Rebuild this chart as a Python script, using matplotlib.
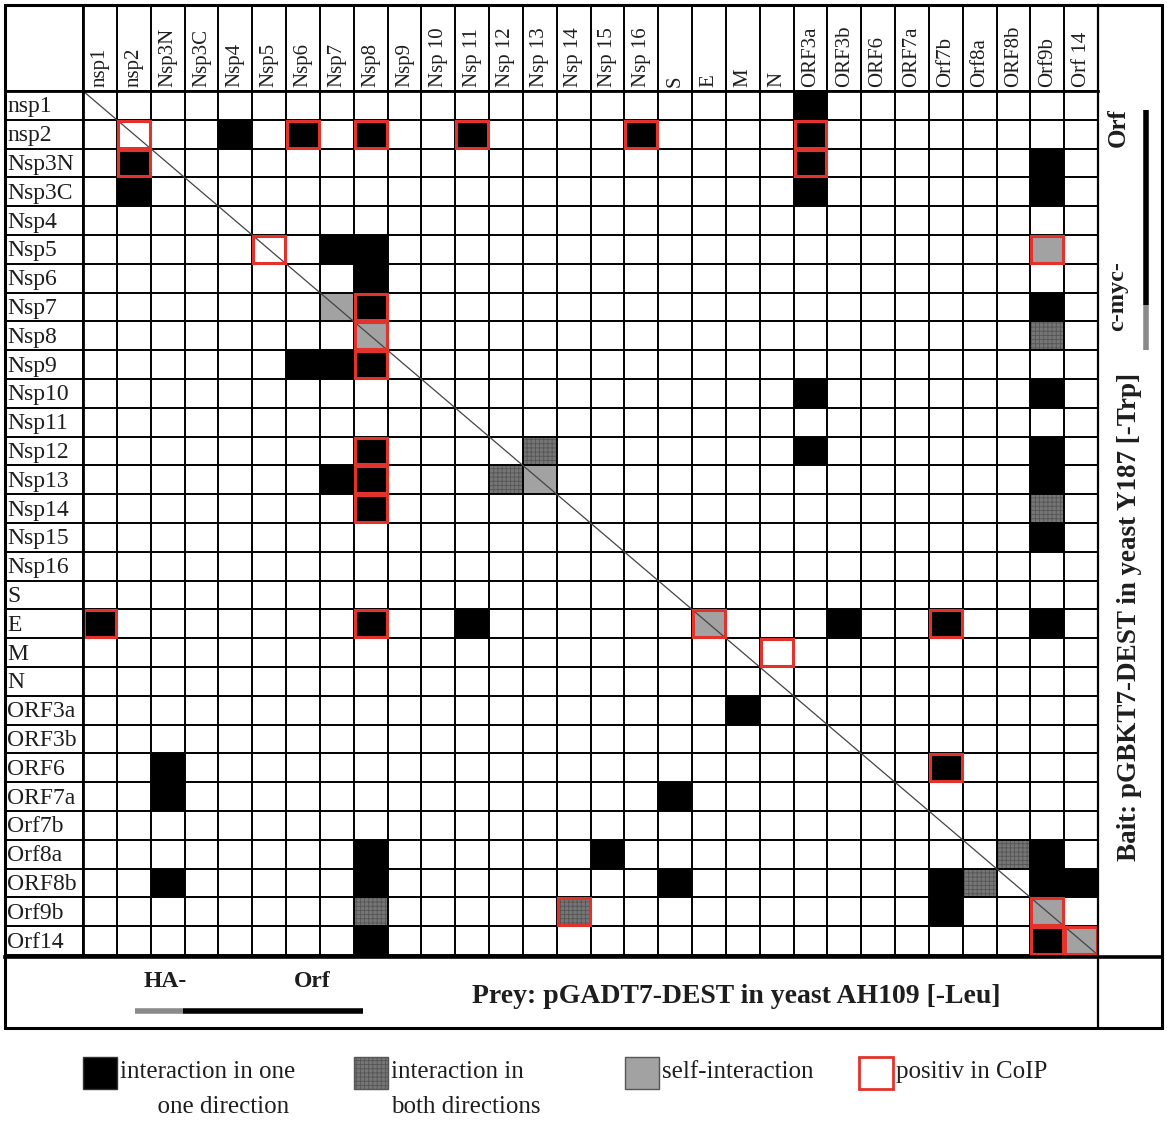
import matplotlib.pyplot as plt
from matplotlib.patches import Rectangle

# bait (rows) and prey (columns)
row_labels = ["nsp1", "nsp2", "Nsp3N", "Nsp3C", "Nsp4", "Nsp5", "Nsp6", "Nsp7", "Nsp8", "Nsp9",
              "Nsp10", "Nsp11", "Nsp12", "Nsp13", "Nsp14", "Nsp15", "Nsp16", "S", "E", "M", "N",
              "ORF3a", "ORF3b", "ORF6", "ORF7a", "Orf7b", "Orf8a", "ORF8b", "Orf9b", "Orf14"]
col_labels = ["nsp1", "nsp2", "Nsp3N", "Nsp3C", "Nsp4", "Nsp5", "Nsp6", "Nsp7", "Nsp8", "Nsp9",
              "Nsp 10", "Nsp 11", "Nsp 12", "Nsp 13", "Nsp 14", "Nsp 15", "Nsp 16", "S", "E", "M", "N",
              "ORF3a", "ORF3b", "ORF6", "ORF7a", "Orf7b", "Orf8a", "ORF8b", "Orf9b", "Orf 14"]

one_direction = [
    ("nsp1", "ORF3a"),
    ("nsp2", "Nsp4"), ("nsp2", "Nsp6"), ("nsp2", "Nsp8"), ("nsp2", "Nsp 11"), ("nsp2", "Nsp 16"), ("nsp2", "ORF3a"),
    ("Nsp3N", "nsp2"), ("Nsp3N", "ORF3a"), ("Nsp3N", "Orf9b"),
    ("Nsp3C", "nsp2"), ("Nsp3C", "ORF3a"), ("Nsp3C", "Orf9b"),
    ("Nsp5", "Nsp7"), ("Nsp5", "Nsp8"),
    ("Nsp6", "Nsp8"),
    ("Nsp7", "Nsp8"), ("Nsp7", "Orf9b"),
    ("Nsp9", "Nsp6"), ("Nsp9", "Nsp7"), ("Nsp9", "Nsp8"),
    ("Nsp10", "ORF3a"), ("Nsp10", "Orf9b"),
    ("Nsp12", "Nsp8"), ("Nsp12", "ORF3a"), ("Nsp12", "Orf9b"),
    ("Nsp13", "Nsp7"), ("Nsp13", "Nsp8"), ("Nsp13", "Orf9b"),
    ("Nsp14", "Nsp8"),
    ("Nsp15", "Orf9b"),
    ("E", "nsp1"), ("E", "Nsp8"), ("E", "Nsp 11"), ("E", "ORF3b"), ("E", "Orf7b"), ("E", "Orf9b"),
    ("ORF3a", "M"),
    ("ORF6", "Nsp3N"), ("ORF6", "Orf7b"),
    ("ORF7a", "Nsp3N"), ("ORF7a", "S"),
    ("Orf8a", "Nsp8"), ("Orf8a", "Nsp 15"), ("Orf8a", "Orf9b"),
    ("ORF8b", "Nsp3N"), ("ORF8b", "Nsp8"), ("ORF8b", "S"), ("ORF8b", "Orf7b"), ("ORF8b", "Orf9b"), ("ORF8b", "Orf 14"),
    ("Orf9b", "Orf7b"),
    ("Orf14", "Nsp8"), ("Orf14", "Orf9b"),
]
both_directions = [
    ("Nsp8", "Orf9b"), ("Nsp12", "Nsp 13"), ("Nsp13", "Nsp 12"), ("Nsp14", "Orf9b"),
    ("Orf8a", "ORF8b"), ("ORF8b", "Orf8a"), ("Orf9b", "Nsp8"), ("Orf9b", "Nsp 14"),
]
self_interaction = [
    ("Nsp5", "Orf9b"), ("Nsp7", "Nsp7"), ("Nsp8", "Nsp8"), ("Nsp13", "Nsp 13"),
    ("E", "E"), ("Orf9b", "Orf9b"), ("Orf14", "Orf 14"),
]
positive_coip = [
    ("nsp2", "nsp2"), ("nsp2", "Nsp6"), ("nsp2", "Nsp8"), ("nsp2", "Nsp 11"), ("nsp2", "Nsp 16"), ("nsp2", "ORF3a"),
    ("Nsp3N", "nsp2"), ("Nsp3N", "ORF3a"), ("Nsp5", "Nsp5"), ("Nsp5", "Orf9b"),
    ("Nsp7", "Nsp8"), ("Nsp8", "Nsp8"), ("Nsp9", "Nsp8"), ("Nsp12", "Nsp8"), ("Nsp13", "Nsp8"), ("Nsp14", "Nsp8"),
    ("E", "nsp1"), ("E", "Nsp8"), ("E", "E"), ("E", "Orf7b"), ("M", "N"), ("ORF6", "Orf7b"),
    ("Orf9b", "Nsp 14"), ("Orf9b", "Orf9b"), ("Orf14", "Orf9b"), ("Orf14", "Orf 14"),
]

legend_labels = ["interaction in one\n      one direction", "interaction in\nboth directions",
                 "self-interaction", "positiv in CoIP"]

plt.rcParams["font.family"] = ["Liberation Serif", "DejaVu Serif"]
plt.rcParams["hatch.linewidth"] = 0.6

BLACK = "#000000"
DARK = "#767676"
LIGHT = "#a2a2a2"
RED = "#e3322c"
TXT = "#1e1e1e"

W, H = 1167, 1122
fig = plt.figure(figsize=(W / 100, H / 100), dpi=100)
ax = fig.add_axes([0, 0, 1, 1])
ax.set_xlim(0, W)
ax.set_ylim(H, 0)
ax.axis("off")

# layout of the table (pixels)
left, top, right, bottom = 5, 5, 1162, 1028
gx0, gy0, gx1, gy1 = 83, 91, 1098, 955
n = len(col_labels)
cw = (gx1 - gx0) / n
ch = (gy1 - gy0) / len(row_labels)


def cell(r_name, c_name):
    r = row_labels.index(r_name)
    c = col_labels.index(c_name)
    return gx0 + c * cw, gy0 + r * ch


# filled cells
for r_name, c_name in one_direction:
    x, y = cell(r_name, c_name)
    ax.add_patch(Rectangle((x, y), cw, ch, facecolor=BLACK, edgecolor="none", zorder=1))
for r_name, c_name in both_directions:
    x, y = cell(r_name, c_name)
    ax.add_patch(Rectangle((x, y), cw, ch, facecolor=DARK, edgecolor="#555555", hatch="++++",
                           linewidth=0, zorder=1))
for r_name, c_name in self_interaction:
    x, y = cell(r_name, c_name)
    ax.add_patch(Rectangle((x, y), cw, ch, facecolor=LIGHT, edgecolor="none", zorder=1))

# grid lines
for i in range(n + 1):
    ax.plot([gx0 + i * cw] * 2, [top, gy1], color="black", lw=1.4, zorder=2)
for j in range(len(row_labels) + 1):
    ax.plot([left, gx1], [gy0 + j * ch] * 2, color="black", lw=1.4, zorder=2)

# diagonal
ax.plot([gx0, gx1], [gy0, gy1], color="#444444", lw=0.9, zorder=3)

# CoIP outlines
for r_name, c_name in positive_coip:
    x, y = cell(r_name, c_name)
    ax.add_patch(Rectangle((x + 1, y + 1), cw - 2, ch - 2, facecolor="none", edgecolor=RED,
                           linewidth=2.2, zorder=4))

# outer frame and boxes
ax.add_patch(Rectangle((left, top), right - left, bottom - top, fill=False, edgecolor="black", lw=2.2, zorder=5))
ax.plot([gx1, gx1], [top, bottom], color="black", lw=1.6, zorder=5)
ax.plot([left, right], [gy1 + 2, gy1 + 2], color="black", lw=2.6, zorder=5)
ax.plot([gx0, gx0], [top, gy1], color="black", lw=2.0, zorder=5)
ax.plot([left, gx1], [gy0, gy0], color="black", lw=2.0, zorder=5)

# labels
for i, lab in enumerate(col_labels):
    ax.text(gx0 + (i + 0.5) * cw, gy0 - 4, lab, rotation=90, ha="center", va="bottom",
            fontsize=15, color=TXT)
for j, lab in enumerate(row_labels):
    ax.text(7, gy0 + (j + 0.55) * ch, lab, ha="left", va="center", fontsize=17, color=TXT)

# bait side annotation
bx = (gx1 + right) / 2
ax.text(bx - 1, 617, "Bait: pGBKT7-DEST in yeast Y187 [-Trp]", rotation=90, ha="center", va="center",
        fontsize=19.5, fontweight="bold", color=TXT)
ax.text(bx - 12, 128, "Orf", rotation=90, ha="center", va="center", fontsize=18, fontweight="bold", color=TXT)
ax.text(bx - 12, 296, "c-myc-", rotation=90, ha="center", va="center", fontsize=17.5, fontweight="bold",
        color=TXT)
ax.plot([bx + 16, bx + 16], [110, 305], color="black", lw=4, solid_capstyle="butt")
ax.plot([bx + 16, bx + 16], [305, 350], color="#8a8a8a", lw=4, solid_capstyle="butt")

# prey annotation
ax.text(165, 981, "HA-", ha="center", va="center", fontsize=17, fontweight="bold", color=TXT)
ax.text(312, 981, "Orf", ha="center", va="center", fontsize=17, fontweight="bold", color=TXT)
ax.plot([135, 183], [1011, 1011], color="#8a8a8a", lw=4, solid_capstyle="butt")
ax.plot([183, 363], [1011, 1011], color="black", lw=4, solid_capstyle="butt")
ax.text(736, 996, "Prey: pGADT7-DEST in yeast AH109 [-Leu]", ha="center", va="center",
        fontsize=20, fontweight="bold", color=TXT)

# legend
leg_x = [83, 354, 625, 859]
leg_fc = [BLACK, DARK, LIGHT, "white"]
leg_ec = ["#333333", "#555555", "#555555", RED]
for lx, fc, ec, lab in zip(leg_x, leg_fc, leg_ec, legend_labels):
    ax.add_patch(Rectangle((lx, 1057), 34, 32, facecolor=fc, edgecolor=ec,
                           hatch="++++" if fc == DARK else None, lw=2 if ec == RED else 1))
    ax.text(lx + 37, 1061, lab, ha="left", va="top", fontsize=18, color=TXT, linespacing=1.75)

fig.savefig("out.png", dpi=100)
